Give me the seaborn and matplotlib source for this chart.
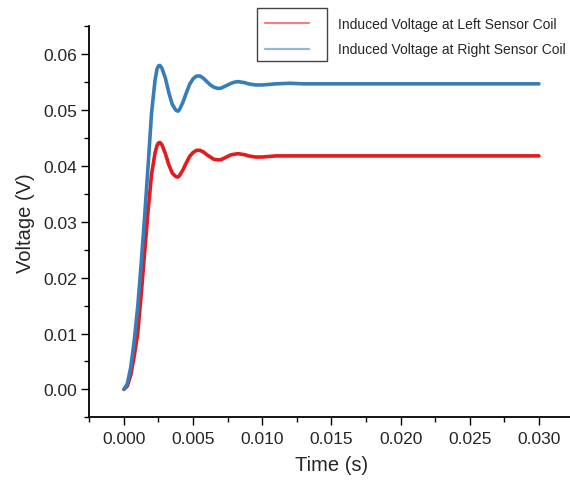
import matplotlib
matplotlib.use("Agg")
import matplotlib.pyplot as plt
import seaborn as sns
import pandas as pd
from matplotlib.lines import Line2D
from matplotlib.patches import Rectangle
from matplotlib.ticker import MultipleLocator, FormatStrFormatter

# ---- data ----
time_s = [0.0, 0.00025, 0.0005, 0.00075, 0.001, 0.00125, 0.0015, 0.00175, 0.002,
          0.00225, 0.0024, 0.0025, 0.0026, 0.00275, 0.003, 0.00325, 0.0035, 0.00375,
          0.0039, 0.004, 0.00425, 0.0045, 0.00475, 0.005, 0.00525, 0.0055, 0.00575,
          0.006, 0.00625, 0.0065, 0.00675, 0.007, 0.00725, 0.0075, 0.00775, 0.008,
          0.00825, 0.0085, 0.00875, 0.009, 0.0095, 0.010, 0.0105, 0.011,
          0.012, 0.013, 0.015, 0.020, 0.025, 0.030]

right_coil_v = [0.0, 0.0010, 0.0040, 0.0088, 0.0148, 0.0225, 0.0310, 0.0400, 0.0495,
                0.0553, 0.0574, 0.0579, 0.0580, 0.0575, 0.0557, 0.0531, 0.0510, 0.0500,
                0.0498, 0.0500, 0.0513, 0.0530, 0.0546, 0.0556, 0.0561, 0.0561, 0.0557,
                0.0551, 0.0545, 0.0541, 0.0539, 0.0539, 0.0542, 0.0545, 0.0548, 0.0550,
                0.0551, 0.0550, 0.0549, 0.0547, 0.0545, 0.0545, 0.0546, 0.0547,
                0.0548, 0.0547, 0.0547, 0.0547, 0.0547, 0.0547]

left_coil_v = [0.0, 0.0006, 0.0026, 0.0060, 0.0100, 0.0170, 0.0245, 0.0320, 0.0385,
               0.0423, 0.0437, 0.0441, 0.0442, 0.0438, 0.0422, 0.0402, 0.0387, 0.0381,
               0.0380, 0.0382, 0.0392, 0.0405, 0.0417, 0.0424, 0.0428, 0.0428, 0.0425,
               0.0420, 0.0416, 0.0412, 0.0411, 0.0411, 0.0414, 0.0417, 0.0420, 0.0421,
               0.0422, 0.0421, 0.0420, 0.0418, 0.0416, 0.0416, 0.0417, 0.0418,
               0.0418, 0.0418, 0.0418, 0.0418, 0.0418, 0.0418]

series_labels = ["Induced Voltage at Left Sensor Coil",
                 "Induced Voltage at Right Sensor Coil"]
series_colors = ["#e41a1c", "#377eb8"]

x_ticks = [0.000, 0.005, 0.010, 0.015, 0.020, 0.025, 0.030]
y_ticks = [0.00, 0.01, 0.02, 0.03, 0.04, 0.05, 0.06]

df = pd.DataFrame({
    "Time (s)": time_s * 2,
    "Voltage (V)": left_coil_v + right_coil_v,
    "Series": [series_labels[0]] * len(time_s) + [series_labels[1]] * len(time_s),
})

sns.set_style("ticks")
plt.rcParams["font.family"] = ["Liberation Sans", "DejaVu Sans"]

fig = plt.figure(figsize=(5.70, 4.81), dpi=100)
ax = fig.add_axes([89.3 / 570, (481 - 418.3) / 481, (573.5 - 89.3) / 570, 391 / 481])

sns.lineplot(data=df, x="Time (s)", y="Voltage (V)", hue="Series",
             palette=dict(zip(series_labels, series_colors)),
             linewidth=2.6, legend=False, ax=ax, sort=False)

ax.set_xlim(-0.0025, 0.0325)
ax.set_ylim(-0.005, 0.065)
ax.set_xticks(x_ticks)
ax.set_yticks(y_ticks)
ax.xaxis.set_minor_locator(MultipleLocator(0.0025))
ax.yaxis.set_minor_locator(MultipleLocator(0.005))
ax.xaxis.set_major_formatter(FormatStrFormatter("%.3f"))
ax.yaxis.set_major_formatter(FormatStrFormatter("%.2f"))

ax.tick_params(which="major", direction="out", length=6, width=1.0,
               labelsize=12.5, color="black", pad=4)
ax.tick_params(which="minor", direction="out", length=3.5, width=1.0, color="black")
ax.tick_params(axis="y", which="major", pad=3)

for side in ["top", "right"]:
    ax.spines[side].set_visible(False)
for side in ["left", "bottom"]:
    ax.spines[side].set_linewidth(1.3)
    ax.spines[side].set_color("black")

ax.set_xlabel("Time (s)", fontsize=14.5, labelpad=6)
ax.set_ylabel("Voltage (V)", fontsize=14.5, labelpad=6)

handles = [Line2D([], [], color=c, lw=1.6, alpha=0.55) for c in series_colors]
leg = fig.legend(handles, series_labels, loc="upper left",
                 bbox_to_anchor=(257 / 570, 1 - 10 / 481), frameon=False,
                 fontsize=10, handlelength=3.2, handletextpad=2.05,
                 labelspacing=0.85, borderpad=0.55, borderaxespad=0)

fig.patches.append(Rectangle((257 / 570, 1 - 62 / 481), 70 / 570, 53 / 481,
                             transform=fig.transFigure, fill=False,
                             edgecolor="#444444", linewidth=1.0))

fig.savefig("out.png", dpi=100)
